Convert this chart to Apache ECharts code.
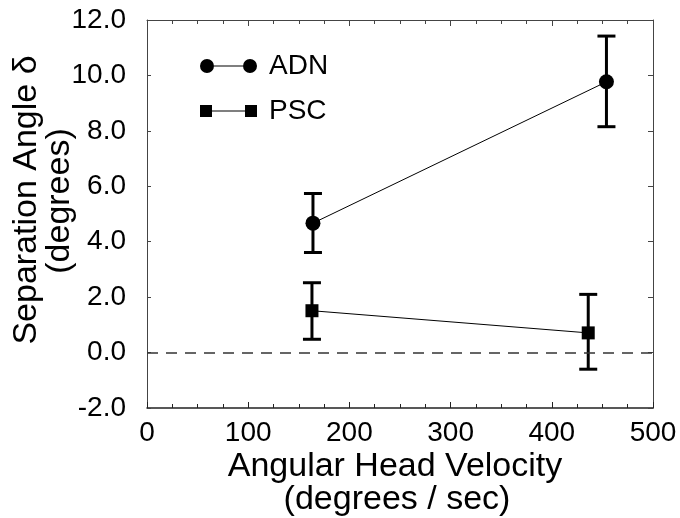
<!DOCTYPE html>
<html>
<head>
<meta charset="utf-8">
<script src="https://cdn.jsdelivr.net/npm/echarts@6/dist/echarts.min.js"></script>
<style>
  html, body { margin: 0; padding: 0; background: #fff; }
  #chart { width: 680px; height: 518px; }
</style>
</head>
<body>
<div id="chart"></div>
<script>
// 数据
var adnX = [164, 454];
var adnY = [4.67, 9.77];
var adnLow = [3.61, 8.15];
var adnHigh = [5.74, 11.42];

var pscX = [163, 436];
var pscY = [1.51, 0.71];
var pscLow = [0.48, -0.6];
var pscHigh = [2.52, 2.1];

var FONT = '"Liberation Sans", Arial, Helvetica, sans-serif';

function pairs(xs, ys) {
  return xs.map(function (x, i) { return [x, ys[i]]; });
}
function errs(xs, lo, hi) {
  return xs.map(function (x, i) { return [x, lo[i], hi[i]]; });
}

// 误差棒
function renderErr(params, api) {
  var x = api.value(0);
  var pLo = api.coord([x, api.value(1)]);
  var pHi = api.coord([x, api.value(2)]);
  var w = 9;
  var st = { stroke: '#000', lineWidth: 3 };
  return {
    type: 'group',
    children: [
      { type: 'line', shape: { x1: pLo[0], y1: pLo[1], x2: pHi[0], y2: pHi[1] }, style: st },
      { type: 'line', shape: { x1: pHi[0] - w, y1: pHi[1], x2: pHi[0] + w, y2: pHi[1] }, style: st },
      { type: 'line', shape: { x1: pLo[0] - w, y1: pLo[1], x2: pLo[0] + w, y2: pLo[1] }, style: st }
    ]
  };
}

var chart = echarts.init(document.getElementById('chart'));

var axisLineStyle = { color: '#222', width: 1.5 };

var option = {
  animation: false,
  backgroundColor: '#fff',
  grid: { left: 147, right: 27, top: 20, bottom: 110 },
  legend: [
    {
      left: 195, top: 47,
      itemWidth: 57, itemHeight: 14,
      data: [{ name: 'ADN', icon: 'path://M0 7A7 7 0 1 0 14 7A7 7 0 1 0 0 7ZM43 7A7 7 0 1 0 57 7A7 7 0 1 0 43 7ZM14 6.5L43 6.5L43 7.5L14 7.5Z' }],
      textStyle: { fontFamily: FONT, fontSize: 28, color: '#000', padding: [0, 0, 0, 7] }
    },
    {
      left: 195, top: 92,
      itemWidth: 57, itemHeight: 12,
      data: [{ name: 'PSC', icon: 'path://M0 0H12V12H0ZM45 0H57V12H45ZM12 5.5H45V6.5H12Z' }],
      textStyle: { fontFamily: FONT, fontSize: 28, color: '#000', padding: [0, 0, 0, 7] }
    }
  ],
  xAxis: [
    {
      type: 'value', min: 0, max: 500, interval: 100,
      axisLine: { show: true, onZero: false, lineStyle: axisLineStyle },
      axisTick: { inside: true, length: 6, lineStyle: { color: '#222' } },
      minorTick: { show: true, splitNumber: 4, length: 4, lineStyle: { color: '#222' } },
      splitLine: { show: false },
      axisLabel: { fontFamily: FONT, fontSize: 28, color: '#000', margin: 11 }
    },
    {
      type: 'value', position: 'top', min: 0, max: 500, interval: 100,
      axisLine: { show: true, onZero: false, lineStyle: { color: '#444', width: 1 } },
      axisTick: { inside: true, length: 6, lineStyle: { color: '#444' } },
      minorTick: { show: true, splitNumber: 4, length: 4, lineStyle: { color: '#444' } },
      splitLine: { show: false },
      axisLabel: { show: false }
    }
  ],
  yAxis: [
    {
      type: 'value', min: -2, max: 12, interval: 2,
      axisLine: { show: true, onZero: false, lineStyle: { color: '#444', width: 1 } },
      axisTick: { inside: true, length: 4, lineStyle: { color: '#444' } },
      splitLine: { show: false },
      axisLabel: {
        fontFamily: FONT, fontSize: 28, color: '#000', margin: 21,
        formatter: function (v) { return v.toFixed(1); }
      }
    },
    {
      type: 'value', position: 'right', min: -2, max: 12, interval: 2,
      axisLine: { show: true, onZero: false, lineStyle: { color: '#444', width: 1 } },
      axisTick: { inside: true, length: 5, lineStyle: { color: '#444' } },
      splitLine: { show: false },
      axisLabel: { show: false }
    }
  ],
  series: [
    {
      type: 'custom', name: 'adnErr', renderItem: renderErr,
      data: errs(adnX, adnLow, adnHigh), z: 3, silent: true
    },
    {
      type: 'custom', name: 'pscErr', renderItem: renderErr,
      data: errs(pscX, pscLow, pscHigh), z: 3, silent: true
    },
    {
      type: 'line', name: 'ADN', data: pairs(adnX, adnY),
      symbol: 'circle', symbolSize: 15, z: 5,
      itemStyle: { color: '#000' },
      lineStyle: { color: '#000', width: 1 }
    },
    {
      type: 'line', name: 'PSC', data: pairs(pscX, pscY),
      symbol: 'rect', symbolSize: 13, z: 5,
      itemStyle: { color: '#000' },
      lineStyle: { color: '#000', width: 1 },
      markLine: {
        silent: true, symbol: 'none', label: { show: false },
        lineStyle: { color: '#333', type: [11, 8], width: 1.5 },
        data: [{ yAxis: 0 }]
      }
    }
  ],
  graphic: [
    {
      type: 'text', x: 27, y: 200, rotation: Math.PI / 2,
      style: { text: 'Separation Angle δ', font: '34px ' + FONT, fill: '#000', align: 'center', verticalAlign: 'middle' }
    },
    {
      type: 'text', x: 60, y: 201, rotation: Math.PI / 2,
      style: { text: '(degrees)', font: '34px ' + FONT, fill: '#000', align: 'center', verticalAlign: 'middle' }
    },
    {
      type: 'text', x: 395, y: 467,
      style: { text: 'Angular Head Velocity', font: '34px ' + FONT, fill: '#000', align: 'center', verticalAlign: 'middle' }
    },
    {
      type: 'text', x: 397, y: 500,
      style: { text: '(degrees / sec)', font: '34px ' + FONT, fill: '#000', align: 'center', verticalAlign: 'middle' }
    }
  ]
};

chart.setOption(option);
</script>
</body>
</html>
